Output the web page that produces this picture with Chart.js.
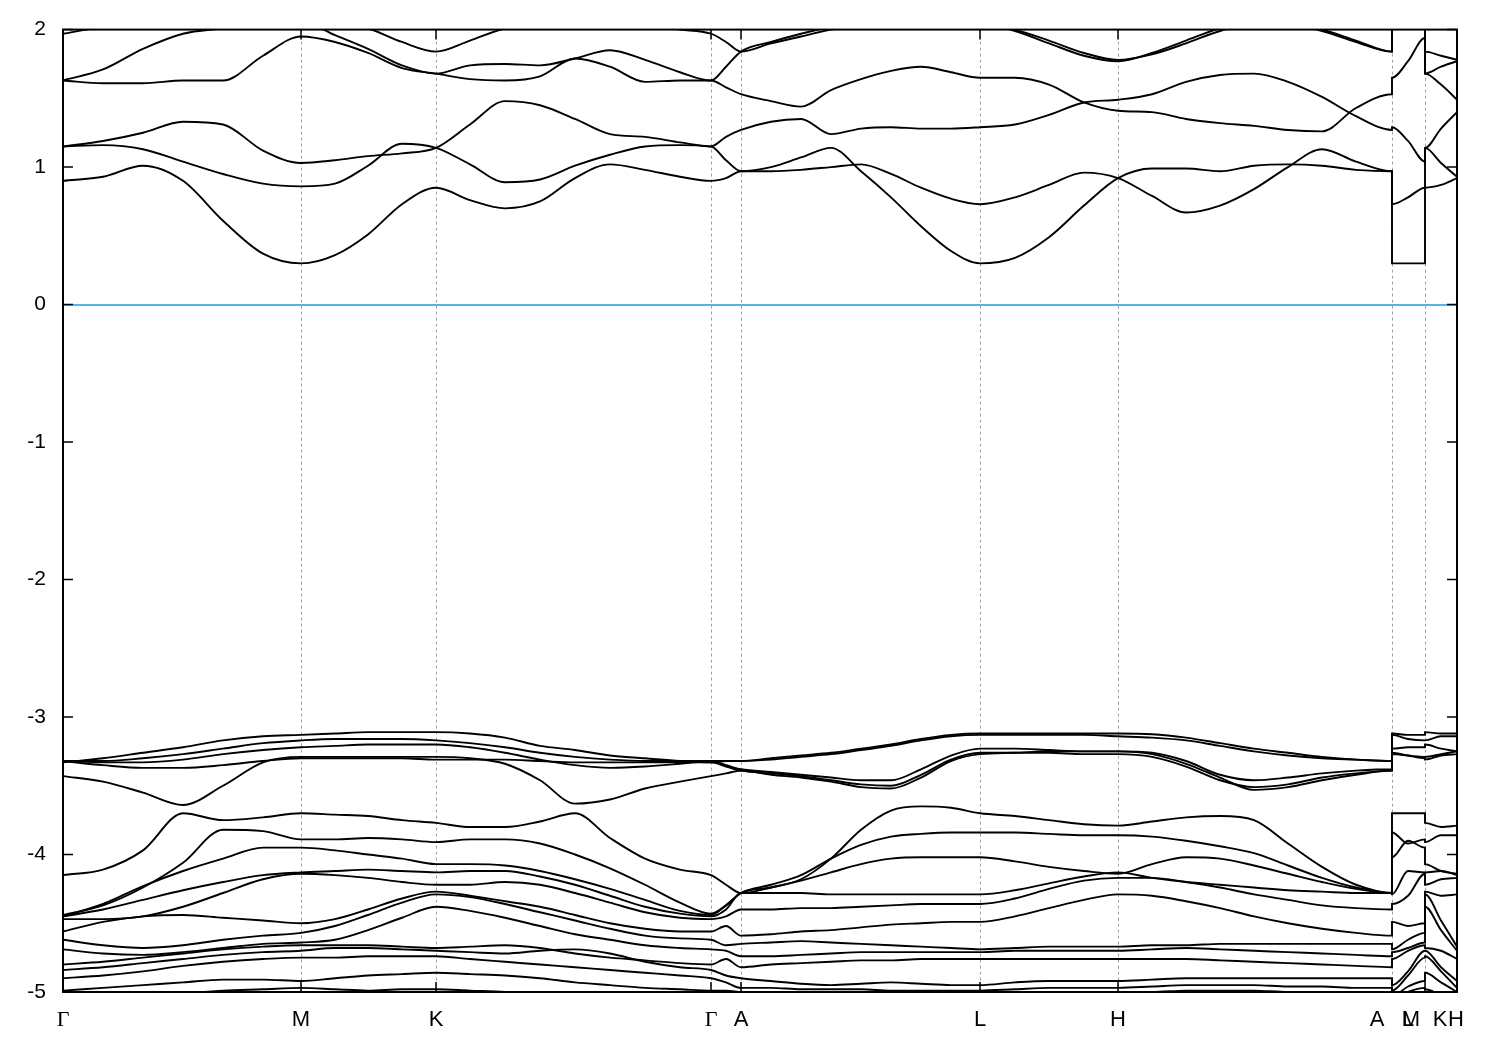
<!DOCTYPE html>
<html>
<head>
<meta charset="utf-8">
<script src="https://cdn.jsdelivr.net/npm/chart.js@4/dist/chart.umd.min.js"></script>
<style>
  html, body { margin: 0; background: #fff; }
  #wrap { width: 1500px; height: 1050px; }
</style>
</head>
<body>
<div id="wrap"><canvas id="bands" width="1500" height="1050"></canvas></div>
<script>
// k-path distance (arb. units), A|L and M|K are path breaks
const kPath = [0, 0.40, 0.80, 1.20, 1.60, 2.00, 2.38,
  2.72, 3.05, 3.39, 3.73,
  4.07, 4.42, 4.77, 5.12, 5.47, 5.82, 6.17, 6.48,
  6.63, 6.78,
  7.08, 7.38, 7.68, 7.98, 8.28, 8.58, 8.88, 9.17,
  9.52, 9.86, 10.21, 10.55,
  10.89, 11.23, 11.57, 11.91, 12.25, 12.59, 12.93, 13.29,
  13.29, 13.45, 13.62,
  13.62, 13.78, 13.94];

const tickNames = ["Γ", "M", "K", "Γ", "A", "L", "H", "A", "L", "M", "K", "H"];
const tickPos = [0, 2.38, 3.73, 6.48, 6.78, 9.17, 10.55, 13.14, 13.45, 13.48, 13.77, 13.93];
const gridPos = [2.38, 3.73, 6.48, 6.78, 9.17, 10.55, 13.29, 13.62];
const energyTicks = [-5, -4, -3, -2, -1, 0, 1, 2];

// conduction bands (eV)
const cond1 = [0.90, 0.93, 1.01, 0.90, 0.61, 0.37, 0.30, 0.36, 0.51, 0.73, 0.85,
  0.76, 0.70, 0.75, 0.92, 1.02, 0.98, 0.93, 0.90, 0.92, 0.97,
  0.97, 0.98, 1.00, 1.02, 0.95, 0.85, 0.77, 0.73, 0.78, 0.87, 0.96, 0.92,
  0.79, 0.67, 0.72, 0.84, 1.00, 1.13, 1.04, 0.97, 0.73, 0.78, 0.85, 1.14, 1.03, 0.93];
const cond2 = [1.15, 1.16, 1.13, 1.04, 0.95, 0.88, 0.86, 0.88, 1.01, 1.17, 1.14,
  1.02, 0.89, 0.91, 1.01, 1.09, 1.15, 1.16, 1.15, 1.05, 0.97,
  1.00, 1.07, 1.14, 0.97, 0.78, 0.57, 0.39, 0.30, 0.34, 0.49, 0.72, 0.92,
  0.99, 0.99, 0.97, 1.01, 1.02, 1.01, 0.98, 0.97, 0.30, 0.30, 0.30, 0.85, 0.87, 0.92];
const cond3 = [1.15, 1.19, 1.25, 1.33, 1.31, 1.12, 1.03, 1.05, 1.08, 1.10, 1.14,
  1.31, 1.48, 1.45, 1.35, 1.24, 1.22, 1.18, 1.15, 1.22, 1.27,
  1.33, 1.35, 1.24, 1.28, 1.29, 1.28, 1.28, 1.29, 1.31, 1.38, 1.47, 1.49,
  1.53, 1.62, 1.67, 1.68, 1.62, 1.51, 1.37, 1.27, 1.29, 1.19, 1.04, 1.14, 1.28, 1.40];
const cond4 = [1.63, 1.61, 1.61, 1.63, 1.63, 1.81, 1.95, 1.91, 1.83, 1.72, 1.68,
  1.64, 1.63, 1.66, 1.79, 1.73, 1.62, 1.63, 1.63, 1.58, 1.53,
  1.48, 1.44, 1.56, 1.64, 1.70, 1.73, 1.69, 1.65, 1.65, 1.60, 1.47, 1.41,
  1.40, 1.35, 1.32, 1.30, 1.27, 1.26, 1.43, 1.53, 1.65, 1.77, 1.94, 1.68, 1.60, 1.49];
const cond5 = [1.63, 1.71, 1.86, 1.97, 2.01, 2.05, 2.06, 1.96, 1.86, 1.74, 1.68,
  1.74, 1.75, 1.74, 1.79, 1.85, 1.78, 1.69, 1.63, 1.73, 1.84,
  1.91, 1.97, 2.02, 2.05, 2.06, 2.06, 2.05, 2.04, 1.99, 1.90, 1.81, 1.77,
  1.83, 1.92, 2.01, 2.05, 2.04, 1.99, 1.91, 1.84, 2.04, 2.06, 2.08, 1.68, 1.73, 1.77];
const cond6 = [1.97, 2.02, 2.05, 2.07, 2.08, 2.08, 2.08, 2.06, 2.01, 1.91, 1.84,
  1.92, 2.01, 2.05, 2.06, 2.05, 2.03, 2.00, 1.97, 1.91, 1.84,
  1.90, 1.95, 2.00, 2.03, 2.04, 2.05, 2.05, 2.05, 2.00, 1.92, 1.83, 1.78,
  1.82, 1.90, 1.99, 2.04, 2.04, 2.00, 1.92, 1.84, 2.05, 2.07, 2.09, 1.84, 1.81, 1.78];

// upper valence group (eV)
const top1 = [-3.33, -3.30, -3.26, -3.22, -3.17, -3.14, -3.13, -3.12, -3.11, -3.11, -3.11,
  -3.12, -3.15, -3.21, -3.24, -3.28, -3.30, -3.32, -3.33, -3.32, -3.32,
  -3.30, -3.28, -3.26, -3.23, -3.20, -3.16, -3.13, -3.12, -3.12, -3.12, -3.12, -3.12,
  -3.125, -3.15, -3.19, -3.23, -3.26, -3.29, -3.31, -3.32, -3.12, -3.13, -3.13, -3.11, -3.12, -3.12];
const top2 = [-3.32, -3.32, -3.30, -3.27, -3.23, -3.19, -3.17, -3.16, -3.16, -3.16, -3.17,
  -3.19, -3.22, -3.26, -3.29, -3.31, -3.32, -3.32, -3.32, -3.32, -3.32,
  -3.31, -3.29, -3.27, -3.24, -3.21, -3.17, -3.14, -3.13, -3.13, -3.13, -3.13, -3.14,
  -3.15, -3.17, -3.21, -3.25, -3.28, -3.30, -3.31, -3.32, -3.13, -3.16, -3.17, -3.17, -3.14, -3.14];
const top3 = [-3.32, -3.33, -3.33, -3.31, -3.27, -3.24, -3.22, -3.21, -3.20, -3.20, -3.20,
  -3.22, -3.26, -3.31, -3.35, -3.37, -3.36, -3.34, -3.32, -3.35, -3.38,
  -3.40, -3.42, -3.44, -3.46, -3.46, -3.38, -3.28, -3.23, -3.23, -3.24, -3.25, -3.25,
  -3.26, -3.32, -3.42, -3.46, -3.44, -3.41, -3.39, -3.38, -3.23, -3.22, -3.22, -3.20, -3.23, -3.25];
const top4 = [-3.32, -3.35, -3.37, -3.37, -3.35, -3.32, -3.30, -3.30, -3.30, -3.30, -3.31,
  -3.31, -3.31, -3.32, -3.33, -3.33, -3.33, -3.33, -3.33, -3.36, -3.39,
  -3.41, -3.43, -3.46, -3.49, -3.50, -3.42, -3.31, -3.26, -3.26, -3.26, -3.27, -3.27,
  -3.29, -3.36, -3.46, -3.51, -3.49, -3.44, -3.41, -3.39, -3.26, -3.28, -3.30, -3.31, -3.28, -3.27];
const top5 = [-3.43, -3.47, -3.55, -3.64, -3.50, -3.33, -3.29, -3.29, -3.29, -3.29, -3.29,
  -3.30, -3.34, -3.46, -3.63, -3.60, -3.52, -3.47, -3.43, -3.41, -3.39,
  -3.42, -3.44, -3.47, -3.51, -3.52, -3.44, -3.32, -3.27, -3.26, -3.25, -3.25, -3.25,
  -3.27, -3.34, -3.44, -3.53, -3.51, -3.46, -3.42, -3.39, -3.27, -3.28, -3.29, -3.29, -3.27, -3.25];

// lower valence group (eV)
const low1 = [-4.15, -4.11, -3.97, -3.70, -3.75, -3.73, -3.70, -3.71, -3.72, -3.75, -3.77,
  -3.80, -3.80, -3.76, -3.70, -3.88, -4.03, -4.11, -4.15, -4.22, -4.28,
  -4.24, -4.18, -4.03, -3.82, -3.68, -3.65, -3.66, -3.70, -3.72, -3.75, -3.78, -3.79,
  -3.76, -3.73, -3.72, -3.75, -3.92, -4.09, -4.22, -4.28, -3.70, -3.70, -3.70, -3.77, -3.80, -3.79];
const low2 = [-4.44, -4.37, -4.24, -4.06, -3.82, -3.83, -3.89, -3.89, -3.88, -3.89, -3.91,
  -3.89, -3.89, -3.92, -4.00, -4.10, -4.22, -4.35, -4.43, -4.37, -4.28,
  -4.22, -4.15, -4.03, -3.93, -3.87, -3.85, -3.84, -3.84, -3.84, -3.85, -3.86, -3.86,
  -3.87, -3.90, -3.94, -3.99, -4.08, -4.17, -4.24, -4.28, -3.84, -3.92, -3.89, -3.91, -3.86, -3.86];
const low3 = [-4.45, -4.36, -4.23, -4.12, -4.03, -3.95, -3.95, -3.97, -4.00, -4.03, -4.07,
  -4.07, -4.08, -4.12, -4.18, -4.25, -4.33, -4.41, -4.44, -4.37, -4.28,
  -4.24, -4.19, -4.13, -4.07, -4.03, -4.02, -4.02, -4.02, -4.05, -4.09, -4.12, -4.14,
  -4.07, -4.02, -4.03, -4.08, -4.14, -4.20, -4.25, -4.28, -4.02, -3.90, -3.95, -4.07, -4.12, -4.14];
const low4 = [-4.45, -4.40, -4.33, -4.26, -4.20, -4.15, -4.13, -4.12, -4.11, -4.12, -4.13,
  -4.12, -4.12, -4.16, -4.22, -4.30, -4.38, -4.43, -4.45, -4.40, -4.28,
  -4.28, -4.28, -4.29, -4.29, -4.29, -4.29, -4.29, -4.29, -4.26, -4.21, -4.16, -4.13,
  -4.17, -4.20, -4.22, -4.24, -4.26, -4.27, -4.28, -4.28, -4.29, -4.12, -4.13, -4.13, -4.12, -4.15];
const low5 = [-4.47, -4.47, -4.45, -4.38, -4.28, -4.18, -4.14, -4.15, -4.17, -4.20, -4.22,
  -4.22, -4.20, -4.22, -4.28, -4.35, -4.42, -4.46, -4.47, -4.45, -4.40,
  -4.40, -4.39, -4.39, -4.38, -4.37, -4.36, -4.36, -4.36, -4.32, -4.25, -4.19, -4.17,
  -4.17, -4.20, -4.24, -4.29, -4.33, -4.37, -4.39, -4.40, -4.36, -4.30, -4.14, -4.22, -4.18, -4.17];
const low6 = [-4.56, -4.49, -4.45, -4.44, -4.46, -4.48, -4.50, -4.47, -4.40, -4.32, -4.27,
  -4.30, -4.34, -4.38, -4.44, -4.50, -4.54, -4.56, -4.56, -4.52, -4.59,
  -4.58, -4.56, -4.55, -4.53, -4.51, -4.50, -4.49, -4.49, -4.45, -4.39, -4.33, -4.29,
  -4.30, -4.34, -4.39, -4.45, -4.50, -4.54, -4.57, -4.59, -4.49, -4.52, -4.50, -4.27, -4.30, -4.29];
const low7 = [-4.62, -4.66, -4.68, -4.66, -4.62, -4.59, -4.57, -4.52, -4.44, -4.35, -4.29,
  -4.31, -4.36, -4.42, -4.48, -4.54, -4.59, -4.61, -4.62, -4.66, -4.65,
  -4.64, -4.63, -4.64, -4.65, -4.66, -4.67, -4.68, -4.69, -4.68, -4.67, -4.67, -4.67,
  -4.66, -4.66, -4.65, -4.65, -4.65, -4.65, -4.65, -4.65, -4.69, -4.62, -4.57, -4.29, -4.48, -4.67];
const low8 = [-4.69, -4.72, -4.73, -4.71, -4.68, -4.65, -4.64, -4.62, -4.55, -4.46, -4.38,
  -4.41, -4.46, -4.52, -4.58, -4.62, -4.66, -4.68, -4.69, -4.70, -4.74,
  -4.74, -4.73, -4.72, -4.71, -4.71, -4.71, -4.71, -4.71, -4.70, -4.70, -4.70, -4.70,
  -4.69, -4.68, -4.69, -4.70, -4.71, -4.72, -4.73, -4.74, -4.71, -4.68, -4.64, -4.38, -4.55, -4.70];
const low9 = [-4.80, -4.78, -4.75, -4.72, -4.69, -4.67, -4.66, -4.66, -4.66, -4.67, -4.68,
  -4.67, -4.66, -4.68, -4.72, -4.75, -4.77, -4.79, -4.80, -4.76, -4.82,
  -4.80, -4.79, -4.78, -4.77, -4.77, -4.76, -4.76, -4.76, -4.76, -4.76, -4.76, -4.76,
  -4.76, -4.76, -4.77, -4.78, -4.79, -4.80, -4.81, -4.82, -4.76, -4.70, -4.66, -4.68, -4.70, -4.76];
const low10 = [-4.84, -4.82, -4.79, -4.76, -4.73, -4.71, -4.70, -4.68, -4.68, -4.69, -4.70,
  -4.71, -4.72, -4.70, -4.69, -4.72, -4.78, -4.82, -4.84, -4.88, -4.90,
  -4.92, -4.94, -4.95, -4.94, -4.93, -4.94, -4.95, -4.95, -4.93, -4.92, -4.92, -4.92,
  -4.91, -4.90, -4.90, -4.90, -4.90, -4.90, -4.90, -4.90, -4.95, -4.85, -4.70, -4.70, -4.82, -4.92];
const low11 = [-4.90, -4.88, -4.85, -4.81, -4.78, -4.76, -4.75, -4.75, -4.74, -4.74, -4.74,
  -4.76, -4.78, -4.80, -4.82, -4.84, -4.86, -4.88, -4.90, -4.93, -4.97,
  -4.97, -4.98, -4.98, -4.98, -4.99, -4.99, -4.99, -4.99, -4.98, -4.97, -4.97, -4.97,
  -4.96, -4.95, -4.95, -4.95, -4.96, -4.96, -4.97, -4.97, -4.99, -4.88, -4.75, -4.74, -4.85, -4.97];
const low12 = [-4.99, -4.97, -4.95, -4.93, -4.91, -4.91, -4.92, -4.90, -4.88, -4.87, -4.86,
  -4.87, -4.88, -4.90, -4.93, -4.95, -4.97, -4.98, -4.99, -4.99, -5.00,
  -5.01, -5.02, -5.02, -5.02, -5.03, -5.03, -5.03, -5.03, -5.02, -5.01, -5.00, -5.00,
  -5.00, -4.99, -4.99, -4.99, -5.00, -5.00, -5.00, -5.00, -5.03, -4.96, -4.92, -4.86, -4.93, -5.00];
const low13 = [-5.05, -5.05, -5.03, -5.01, -4.99, -4.98, -4.97, -4.98, -4.99, -4.98, -4.98,
  -4.99, -5.00, -5.02, -5.03, -5.04, -5.05, -5.05, -5.05, -5.05, -5.05,
  -5.06, -5.06, -5.06, -5.06, -5.06, -5.06, -5.06, -5.06, -5.06, -5.05, -5.05, -5.05,
  -5.05, -5.05, -5.05, -5.05, -5.05, -5.05, -5.05, -5.05, -5.06, -5.00, -4.97, -4.98, -5.02, -5.05];

const bands = [cond1, cond2, cond3, cond4, cond5, cond6,
  top1, top2, top3, top4, top5,
  low1, low2, low3, low4, low5, low6, low7, low8, low9, low10, low11, low12, low13];

// gnuplot-like frame with inward tick marks
const framePlugin = {
  id: "frame",
  afterDatasetsDraw(chart) {
    const { ctx, chartArea: a, scales } = chart;
    ctx.save();
    ctx.strokeStyle = "#000";
    ctx.lineWidth = 2;
    ctx.strokeRect(a.left, a.top, a.right - a.left, a.bottom - a.top);
    ctx.lineWidth = 1.5;
    ctx.beginPath();
    energyTicks.forEach(v => {
      const y = scales.y.getPixelForValue(v);
      ctx.moveTo(a.left, y); ctx.lineTo(a.left + 10, y);
      ctx.moveTo(a.right, y); ctx.lineTo(a.right - 10, y);
    });
    gridPos.forEach(v => {
      const x = scales.x.getPixelForValue(v);
      ctx.moveTo(x, a.bottom); ctx.lineTo(x, a.bottom - 10);
      ctx.moveTo(x, a.top); ctx.lineTo(x, a.top + 10);
    });
    ctx.stroke();
    ctx.restore();
  }
};

const ctx = document.getElementById("bands").getContext("2d");
new Chart(ctx, {
  type: "line",
  data: {
    datasets: bands.map(b => ({
      data: b.map((e, i) => ({ x: kPath[i], y: e })),
      borderColor: "#000",
      borderWidth: 1.9,
      pointRadius: 0,
      cubicInterpolationMode: "monotone",
      fill: false,
    })),
  },
  options: {
    responsive: false,
    animation: false,
    devicePixelRatio: 1,
    layout: { padding: { top: 28, right: 43, left: 0, bottom: 0 } },
    plugins: { legend: { display: false }, tooltip: { enabled: false } },
    scales: {
      x: {
        type: "linear",
        min: 0,
        max: 13.94,
        afterBuildTicks: s => { s.ticks = tickPos.map(v => ({ value: v })); },
        afterFit: s => { s.height = 58; },
        grid: { display: false, drawTicks: false },
        border: { display: false },
        ticks: {
          autoSkip: false,
          maxRotation: 0,
          padding: 15,
          color: "#000",
          font: c => ({
            family: tickNames[c.index] === "Γ" ? "Liberation Serif" : "Liberation Sans",
            size: 22,
          }),
          callback: (v, i) => tickNames[i],
        },
      },
      xg: {
        type: "linear",
        position: "bottom",
        min: 0,
        max: 13.94,
        afterBuildTicks: s => { s.ticks = gridPos.map(v => ({ value: v })); },
        afterFit: s => { s.height = 0; },
        grid: { color: "#a0a0a0", lineWidth: 1, drawTicks: false },
        border: { display: false, dash: [3, 3] },
        ticks: { display: false },
      },
      y: {
        min: -5,
        max: 2,
        afterBuildTicks: s => { s.ticks = energyTicks.map(v => ({ value: v })); },
        afterFit: s => { s.width = 63; },
        grid: {
          drawTicks: false,
          color: c => (c.tick && c.tick.value === 0 ? "#56b4e9" : "rgba(0,0,0,0)"),
          lineWidth: 2,
        },
        border: { display: false },
        ticks: {
          padding: 17,
          color: "#000",
          font: { family: "Liberation Sans", size: 21 },
          callback: v => String(v),
        },
      },
    },
  },
  plugins: [framePlugin],
});
</script>
</body>
</html>
